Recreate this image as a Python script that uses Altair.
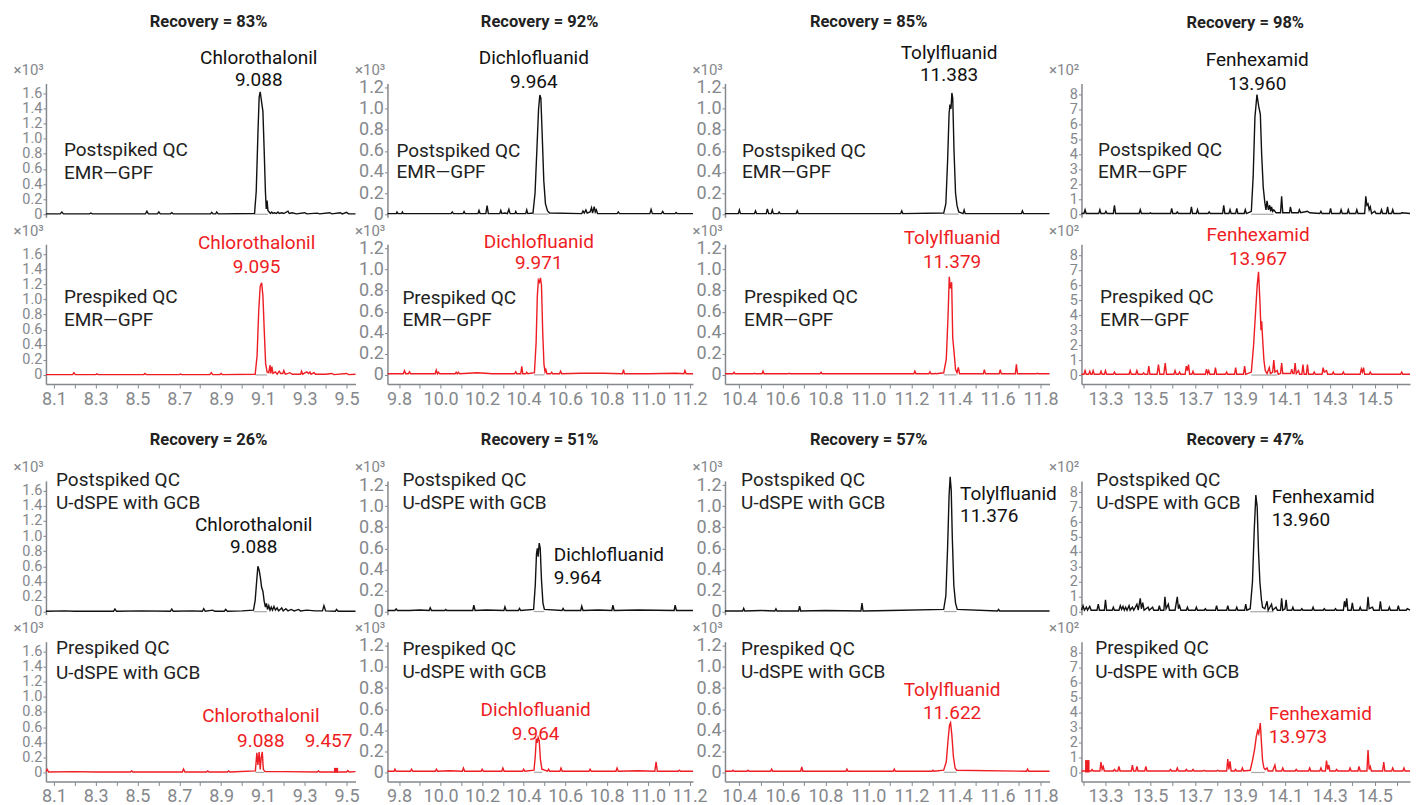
import altair as alt
import pandas as pd

FONT = "Roboto"
TRACE_BLACK = "#111111"
TEXT_BLACK = "#222222"
RED = "#ee1d23"
AXIS_GRAY = "#85888c"
BASE_GRAY = "#a8a8a8"

# ---------------- categories / labels ----------------
compounds = ["Chlorothalonil", "Dichlofluanid", "Tolylfluanid", "Fenhexamid"]
recovery_emr = [83, 92, 85, 98]
recovery_udspe = [26, 51, 57, 47]
exponents = ["×10³", "×10³", "×10³", "×10²"]

x_domains = [[8.062, 9.543], [9.744, 11.216], [10.333, 11.842], [13.193, 14.657]]
y_domains = [[-0.04, 1.73], [-0.03, 1.24], [-0.03, 1.24], [-0.2, 8.75]]
y_domains_bottom = [[-0.12, 1.73], [-0.087, 1.24], [-0.087, 1.24], [-0.6, 8.75]]
y_ticks = [[0, 0.2, 0.4, 0.6, 0.8, 1.0, 1.2, 1.4, 1.6],
           [0, 0.2, 0.4, 0.6, 0.8, 1.0, 1.2],
           [0, 0.2, 0.4, 0.6, 0.8, 1.0, 1.2],
           [0, 1, 2, 3, 4, 5, 6, 7, 8]]
x_major_ticks = [[8.1, 8.3, 8.5, 8.7, 8.9, 9.1, 9.3, 9.5],
                 [9.8, 10.0, 10.2, 10.4, 10.6, 10.8, 11.0, 11.2],
                 [10.4, 10.6, 10.8, 11.0, 11.2, 11.4, 11.6, 11.8],
                 [13.3, 13.5, 13.7, 13.9, 14.1, 14.3, 14.5]]
x_minor_ticks = [[8.2, 8.4, 8.6, 8.8, 9.0, 9.2, 9.4],
                 [9.9, 10.1, 10.3, 10.5, 10.7, 10.9, 11.1],
                 [10.5, 10.7, 10.9, 11.1, 11.3, 11.5, 11.7],
                 [13.2, 13.4, 13.6, 13.8, 14.0, 14.2, 14.4, 14.6]]

# ---------------- traces (retention time, intensity) ----------------
chl_post_emr = [(8.062,0.005),(8.13,0.005),(8.138,0.03),(8.146,0.005),(8.27,0.005),(8.277,0.015),(8.284,0.005),(8.538,0.005),(8.545,0.04),(8.552,0.005),(8.595,0.005),(8.602,0.03),(8.609,0.005),(8.657,0.005),(8.664,0.02),(8.671,0.005),(8.85,0.005),(8.855,0.025),(8.862,0.005),(8.874,0.005),(8.879,0.03),(8.886,0.005),(9.06,0.01),(9.068,0.3),(9.076,1.05),(9.082,1.55),(9.087,1.62),(9.093,1.5),(9.1,1.36),(9.106,0.85),(9.112,0.3),(9.116,0.07),(9.12,0.18),(9.124,0.05),(9.13,0.03),(9.136,0.01),(9.142,0.03),(9.148,0.01),(9.155,0.02),(9.165,0.01),(9.172,0.03),(9.178,0.01),(9.19,0.02),(9.2,0.01),(9.22,0.04),(9.226,0.01),(9.24,0.02),(9.26,0.005),(9.3,0.02),(9.31,0.005),(9.36,0.015),(9.37,0.005),(9.42,0.02),(9.43,0.005),(9.47,0.02),(9.48,0.005),(9.5,0.025),(9.51,0.005),(9.543,0.005)]
chl_pre_emr = [(8.062,0.005),(8.19,0.005),(8.196,0.03),(8.203,0.005),(8.3,0.005),(8.306,0.015),(8.312,0.005),(8.53,0.005),(8.536,0.02),(8.542,0.005),(8.7,0.005),(8.706,0.012),(8.712,0.005),(8.846,0.005),(8.853,0.03),(8.86,0.005),(8.895,0.005),(8.9,0.02),(8.906,0.005),(9.063,0.01),(9.072,0.25),(9.08,0.85),(9.087,1.17),(9.094,1.22),(9.1,1.05),(9.107,0.55),(9.113,0.15),(9.12,0.04),(9.128,0.03),(9.134,0.13),(9.138,0.02),(9.143,0.11),(9.148,0.02),(9.16,0.04),(9.168,0.01),(9.178,0.05),(9.185,0.02),(9.195,0.02),(9.2,0.06),(9.207,0.01),(9.22,0.02),(9.23,0.03),(9.24,0.01),(9.28,0.01),(9.285,0.05),(9.29,0.01),(9.31,0.04),(9.318,0.02),(9.325,0.04),(9.33,0.01),(9.345,0.03),(9.352,0.01),(9.4,0.01),(9.43,0.02),(9.44,0.005),(9.5,0.02),(9.51,0.005),(9.543,0.01)]
chl_post_udspe = [(8.062,0.005),(8.15,0.01),(8.2,0.005),(8.385,0.005),(8.392,0.035),(8.4,0.005),(8.52,0.01),(8.657,0.005),(8.664,0.035),(8.671,0.005),(8.76,0.01),(8.81,0.005),(8.817,0.04),(8.824,0.005),(8.86,0.02),(8.87,0.005),(8.915,0.005),(8.922,0.03),(8.93,0.005),(9.0,0.01),(9.055,0.02),(9.063,0.15),(9.07,0.4),(9.076,0.6),(9.082,0.55),(9.088,0.45),(9.094,0.32),(9.1,0.27),(9.106,0.14),(9.112,0.06),(9.117,0.11),(9.122,0.03),(9.128,0.08),(9.134,0.02),(9.14,0.06),(9.146,0.02),(9.153,0.07),(9.16,0.02),(9.168,0.05),(9.175,0.01),(9.19,0.05),(9.197,0.01),(9.21,0.04),(9.22,0.01),(9.235,0.03),(9.25,0.01),(9.27,0.03),(9.28,0.01),(9.31,0.02),(9.35,0.01),(9.385,0.01),(9.392,0.08),(9.4,0.01),(9.447,0.005),(9.452,0.03),(9.46,0.005),(9.543,0.005)]
chl_pre_udspe = [(8.062,0.01),(8.068,0.04),(8.075,0.005),(8.2,0.01),(8.3,0.005),(8.466,0.005),(8.472,0.02),(8.478,0.005),(8.715,0.005),(8.72,0.045),(8.727,0.005),(8.83,0.005),(8.836,0.02),(8.842,0.005),(8.93,0.005),(8.936,0.02),(8.942,0.005),(9.064,0.02),(9.071,0.26),(9.076,0.1),(9.082,0.27),(9.087,0.04),(9.092,0.2),(9.097,0.27),(9.102,0.04),(9.11,0.01),(9.2,0.01),(9.36,0.005),(9.366,0.02),(9.372,0.005),(9.5,0.005),(9.506,0.025),(9.512,0.005),(9.543,0.01)]

dcf_post_emr = [(9.744,0.005),(9.787,0.005),(9.79,0.02),(9.795,0.005),(9.812,0.005),(9.816,0.02),(9.82,0.005),(10.05,0.005),(10.056,0.02),(10.062,0.005),(10.108,0.005),(10.113,0.025),(10.118,0.005),(10.18,0.005),(10.185,0.035),(10.19,0.005),(10.218,0.005),(10.224,0.08),(10.23,0.005),(10.285,0.005),(10.29,0.035),(10.295,0.005),(10.31,0.01),(10.322,0.005),(10.329,0.045),(10.335,0.005),(10.358,0.005),(10.362,0.025),(10.367,0.005),(10.41,0.005),(10.415,0.04),(10.42,0.005),(10.445,0.01),(10.455,0.2),(10.464,0.62),(10.472,1.0),(10.478,1.13),(10.483,1.1),(10.49,0.72),(10.497,0.32),(10.505,0.1),(10.515,0.03),(10.525,0.01),(10.68,0.005),(10.686,0.03),(10.692,0.01),(10.7,0.04),(10.706,0.01),(10.72,0.02),(10.727,0.06),(10.732,0.01),(10.74,0.07),(10.745,0.02),(10.75,0.04),(10.756,0.005),(10.85,0.005),(10.856,0.02),(10.862,0.005),(11.008,0.005),(11.014,0.045),(11.02,0.005),(11.064,0.005),(11.07,0.025),(11.076,0.005),(11.13,0.005),(11.134,0.015),(11.14,0.005),(11.216,0.005)]
dcf_pre_emr = [(9.744,0.01),(9.82,0.01),(9.826,0.04),(9.832,0.01),(9.845,0.01),(9.85,0.03),(9.856,0.01),(9.974,0.01),(9.979,0.045),(9.985,0.01),(9.99,0.025),(9.996,0.01),(10.07,0.01),(10.075,0.025),(10.08,0.01),(10.086,0.025),(10.092,0.01),(10.176,0.02),(10.25,0.01),(10.356,0.01),(10.362,0.03),(10.367,0.01),(10.386,0.01),(10.391,0.08),(10.396,0.01),(10.41,0.01),(10.415,0.025),(10.42,0.01),(10.452,0.02),(10.46,0.3),(10.466,0.75),(10.471,0.9),(10.476,0.88),(10.481,0.92),(10.486,0.85),(10.492,0.4),(10.498,0.1),(10.503,0.03),(10.507,0.05),(10.512,0.01),(10.53,0.01),(10.535,0.025),(10.54,0.01),(10.573,0.01),(10.578,0.035),(10.584,0.01),(10.675,0.015),(10.784,0.015),(10.876,0.01),(10.881,0.05),(10.886,0.01),(11.0,0.01),(11.134,0.015),(11.172,0.01),(11.177,0.04),(11.183,0.01),(11.216,0.01)]
dcf_post_udspe = [(9.744,0.01),(9.78,0.01),(9.786,0.025),(9.792,0.01),(9.85,0.01),(9.9,0.015),(9.945,0.01),(9.95,0.035),(9.956,0.01),(10.02,0.01),(10.025,0.02),(10.03,0.01),(10.155,0.01),(10.16,0.06),(10.166,0.01),(10.22,0.015),(10.305,0.01),(10.31,0.045),(10.316,0.01),(10.375,0.01),(10.38,0.03),(10.386,0.01),(10.448,0.02),(10.456,0.25),(10.462,0.55),(10.466,0.6),(10.47,0.52),(10.475,0.65),(10.48,0.6),(10.486,0.3),(10.493,0.08),(10.5,0.02),(10.585,0.01),(10.59,0.03),(10.596,0.01),(10.675,0.01),(10.68,0.05),(10.686,0.01),(10.76,0.015),(10.825,0.01),(10.83,0.06),(10.836,0.01),(10.95,0.015),(11.125,0.01),(11.13,0.06),(11.136,0.01),(11.216,0.01)]
dcf_pre_udspe = [(9.744,0.01),(9.776,0.01),(9.78,0.03),(9.786,0.01),(9.855,0.01),(9.86,0.03),(9.866,0.01),(9.975,0.01),(9.98,0.03),(9.986,0.01),(10.04,0.015),(10.105,0.01),(10.11,0.04),(10.116,0.01),(10.195,0.01),(10.2,0.03),(10.206,0.01),(10.295,0.01),(10.3,0.04),(10.306,0.01),(10.395,0.01),(10.4,0.03),(10.406,0.01),(10.45,0.02),(10.456,0.15),(10.461,0.32),(10.465,0.28),(10.47,0.33),(10.475,0.3),(10.481,0.12),(10.488,0.03),(10.515,0.01),(10.52,0.03),(10.526,0.01),(10.575,0.01),(10.58,0.04),(10.586,0.01),(10.715,0.01),(10.72,0.03),(10.726,0.01),(10.845,0.01),(10.85,0.04),(10.856,0.01),(10.95,0.015),(11.032,0.01),(11.038,0.1),(11.044,0.01),(11.145,0.01),(11.15,0.02),(11.156,0.01),(11.216,0.01)]

tlf_post_emr = [(10.333,0.005),(10.395,0.005),(10.4,0.04),(10.405,0.005),(10.47,0.005),(10.475,0.03),(10.48,0.005),(10.525,0.005),(10.53,0.05),(10.536,0.005),(10.548,0.005),(10.553,0.04),(10.558,0.005),(10.58,0.005),(10.585,0.02),(10.59,0.005),(10.664,0.005),(10.669,0.03),(10.674,0.005),(10.9,0.005),(11.15,0.005),(11.155,0.03),(11.16,0.005),(11.35,0.01),(11.36,0.1),(11.368,0.5),(11.375,0.95),(11.379,1.04),(11.384,1.0),(11.388,1.15),(11.392,1.1),(11.398,0.6),(11.405,0.2),(11.412,0.08),(11.42,0.02),(11.44,0.005),(11.445,0.04),(11.45,0.005),(11.6,0.005),(11.711,0.005),(11.716,0.03),(11.721,0.005),(11.842,0.005)]
tlf_pre_emr = [(10.333,0.01),(10.37,0.01),(10.375,0.025),(10.38,0.01),(10.465,0.01),(10.47,0.015),(10.475,0.01),(10.505,0.01),(10.51,0.035),(10.515,0.01),(10.627,0.01),(10.632,0.015),(10.637,0.01),(10.775,0.01),(10.78,0.025),(10.785,0.01),(11.0,0.01),(11.211,0.01),(11.216,0.035),(11.221,0.01),(11.281,0.01),(11.286,0.03),(11.291,0.01),(11.305,0.01),(11.31,0.015),(11.315,0.01),(11.35,0.02),(11.362,0.15),(11.37,0.55),(11.376,0.93),(11.381,0.82),(11.387,0.88),(11.392,0.35),(11.398,0.22),(11.405,0.05),(11.412,0.02),(11.418,0.07),(11.424,0.01),(11.534,0.01),(11.539,0.05),(11.544,0.01),(11.608,0.01),(11.613,0.05),(11.618,0.01),(11.683,0.01),(11.688,0.1),(11.693,0.01),(11.78,0.01),(11.786,0.015),(11.792,0.01),(11.842,0.01)]
tlf_post_udspe = [(10.333,0.005),(10.415,0.005),(10.42,0.03),(10.425,0.005),(10.5,0.01),(10.565,0.005),(10.57,0.025),(10.575,0.005),(10.675,0.005),(10.68,0.05),(10.685,0.005),(10.8,0.01),(10.965,0.005),(10.97,0.08),(10.975,0.005),(11.1,0.01),(11.35,0.02),(11.36,0.15),(11.368,0.6),(11.375,1.1),(11.38,1.28),(11.385,1.15),(11.39,0.7),(11.397,0.25),(11.405,0.08),(11.413,0.02),(11.6,0.005),(11.605,0.02),(11.61,0.005),(11.842,0.005)]
tlf_pre_udspe = [(10.333,0.01),(10.365,0.01),(10.37,0.02),(10.375,0.01),(10.435,0.01),(10.44,0.02),(10.445,0.01),(10.545,0.01),(10.55,0.03),(10.555,0.01),(10.685,0.01),(10.69,0.05),(10.695,0.01),(10.895,0.01),(10.9,0.03),(10.905,0.01),(11.115,0.01),(11.12,0.03),(11.125,0.01),(11.295,0.01),(11.3,0.02),(11.305,0.01),(11.35,0.02),(11.362,0.1),(11.37,0.3),(11.377,0.45),(11.382,0.47),(11.388,0.35),(11.395,0.15),(11.403,0.04),(11.41,0.02),(11.735,0.01),(11.74,0.03),(11.745,0.01),(11.842,0.01)]

fhx_post_emr = [(13.193,0.05),(13.204,0.05),(13.209,0.3),(13.214,0.05),(13.27,0.05),(13.275,0.3),(13.28,0.05),(13.297,0.05),(13.302,0.2),(13.307,0.05),(13.335,0.05),(13.34,0.6),(13.345,0.05),(13.45,0.05),(13.455,0.3),(13.46,0.05),(13.495,0.05),(13.5,0.1),(13.505,0.05),(13.59,0.05),(13.595,0.4),(13.6,0.05),(13.615,0.05),(13.62,0.15),(13.625,0.05),(13.678,0.05),(13.683,0.5),(13.688,0.05),(13.705,0.05),(13.71,0.3),(13.715,0.05),(13.757,0.05),(13.762,0.15),(13.767,0.05),(13.822,0.05),(13.827,0.6),(13.832,0.05),(13.85,0.05),(13.855,0.3),(13.86,0.05),(13.88,0.05),(13.885,0.4),(13.89,0.05),(13.918,0.05),(13.923,0.3),(13.928,0.05),(13.95,0.2),(13.958,2.5),(13.966,6.5),(13.975,8.0),(13.983,7.2),(13.99,6.7),(13.996,4.0),(14.003,1.8),(14.01,0.8),(14.015,0.3),(14.02,0.9),(14.026,0.3),(14.032,0.6),(14.036,0.2),(14.04,0.5),(14.045,0.2),(14.05,0.3),(14.06,0.1),(14.08,0.1),(14.085,1.2),(14.09,0.1),(14.12,0.1),(14.124,0.5),(14.13,0.1),(14.16,0.1),(14.164,0.3),(14.17,0.1),(14.2,0.2),(14.21,0.1),(14.255,0.05),(14.26,0.2),(14.265,0.05),(14.298,0.05),(14.303,0.4),(14.308,0.05),(14.345,0.05),(14.35,0.3),(14.355,0.05),(14.377,0.05),(14.382,0.3),(14.387,0.05),(14.415,0.05),(14.42,0.3),(14.425,0.05),(14.455,0.05),(14.46,1.2),(14.465,0.6),(14.47,0.7),(14.475,0.3),(14.48,0.5),(14.486,0.05),(14.5,0.2),(14.506,0.05),(14.525,0.05),(14.53,0.3),(14.535,0.05),(14.552,0.05),(14.557,0.5),(14.562,0.05),(14.575,0.05),(14.58,0.3),(14.585,0.05),(14.615,0.05),(14.62,0.1),(14.657,0.05)]
fhx_pre_emr = [(13.193,0.05),(13.204,0.05),(13.209,0.3),(13.214,0.05),(13.225,0.05),(13.23,0.25),(13.235,0.05),(13.24,0.05),(13.245,0.3),(13.25,0.05),(13.275,0.05),(13.28,0.25),(13.285,0.05),(13.295,0.05),(13.3,0.3),(13.305,0.05),(13.335,0.05),(13.34,0.2),(13.345,0.05),(13.405,0.05),(13.41,0.3),(13.415,0.05),(13.435,0.05),(13.44,0.3),(13.445,0.05),(13.465,0.05),(13.47,0.15),(13.475,0.05),(13.488,0.05),(13.493,0.6),(13.498,0.05),(13.53,0.05),(13.536,0.7),(13.542,0.05),(13.56,0.05),(13.566,0.8),(13.572,0.05),(13.605,0.05),(13.61,0.3),(13.615,0.05),(13.625,0.05),(13.63,0.2),(13.635,0.05),(13.655,0.05),(13.66,0.6),(13.665,0.3),(13.67,0.7),(13.675,0.05),(13.685,0.05),(13.69,0.25),(13.695,0.05),(13.745,0.05),(13.75,0.4),(13.755,0.1),(13.76,0.3),(13.765,0.05),(13.785,0.05),(13.79,0.5),(13.795,0.05),(13.835,0.05),(13.84,0.2),(13.845,0.05),(13.875,0.05),(13.88,0.5),(13.885,0.05),(13.915,0.05),(13.92,0.6),(13.925,0.05),(13.95,0.2),(13.96,2.0),(13.968,4.0),(13.976,6.0),(13.982,6.9),(13.988,5.0),(13.993,3.0),(13.996,3.6),(14.0,2.5),(14.006,1.0),(14.012,0.3),(14.02,0.1),(14.03,0.5),(14.035,0.1),(14.045,0.2),(14.05,1.0),(14.055,0.2),(14.065,0.3),(14.07,0.05),(14.08,0.1),(14.085,0.8),(14.09,0.1),(14.125,0.1),(14.13,0.4),(14.135,0.1),(14.14,0.1),(14.145,0.8),(14.15,0.1),(14.16,0.3),(14.165,0.05),(14.175,0.05),(14.18,0.7),(14.185,0.05),(14.195,0.05),(14.2,0.7),(14.205,0.05),(14.225,0.05),(14.23,0.2),(14.235,0.05),(14.265,0.05),(14.27,0.5),(14.275,0.2),(14.285,0.3),(14.29,0.05),(14.31,0.05),(14.315,0.2),(14.32,0.05),(14.355,0.05),(14.36,0.2),(14.365,0.05),(14.435,0.05),(14.44,0.4),(14.445,0.2),(14.45,0.5),(14.455,0.05),(14.475,0.05),(14.48,0.2),(14.485,0.05),(14.615,0.05),(14.62,0.2),(14.625,0.05),(14.657,0.05)]
fhx_post_udspe = [(13.193,0.1),(13.2,0.4),(13.206,0.1),(13.215,0.3),(13.22,0.1),(13.23,0.35),(13.236,0.1),(13.262,0.1),(13.268,0.5),(13.273,0.1),(13.295,0.1),(13.3,0.8),(13.305,0.1),(13.33,0.1),(13.335,0.3),(13.34,0.1),(13.36,0.1),(13.366,0.4),(13.372,0.15),(13.378,0.35),(13.384,0.1),(13.39,0.3),(13.396,0.1),(13.405,0.4),(13.41,0.1),(13.42,0.3),(13.426,0.1),(13.44,0.5),(13.446,0.1),(13.455,0.9),(13.46,0.2),(13.466,0.6),(13.472,0.1),(13.49,0.3),(13.495,0.1),(13.51,0.3),(13.515,0.1),(13.535,0.1),(13.54,0.4),(13.545,0.1),(13.56,0.1),(13.565,1.0),(13.57,0.2),(13.58,0.5),(13.585,0.1),(13.61,0.1),(13.62,1.0),(13.625,0.2),(13.63,0.4),(13.636,0.1),(13.66,0.1),(13.665,0.3),(13.67,0.1),(13.7,0.1),(13.705,0.3),(13.71,0.1),(13.74,0.1),(13.745,0.2),(13.75,0.1),(13.79,0.1),(13.795,0.4),(13.8,0.1),(13.84,0.1),(13.845,0.4),(13.85,0.1),(13.88,0.1),(13.885,0.3),(13.89,0.1),(13.92,0.1),(13.925,0.5),(13.93,0.1),(13.945,0.2),(13.955,2.0),(13.963,5.5),(13.97,7.8),(13.976,7.0),(13.982,4.0),(13.988,2.0),(13.995,0.8),(14.0,0.3),(14.01,0.2),(14.02,0.7),(14.025,0.1),(14.04,0.5),(14.045,0.1),(14.06,0.3),(14.066,0.1),(14.08,0.1),(14.085,0.9),(14.09,0.1),(14.1,0.2),(14.105,0.8),(14.11,0.1),(14.13,0.1),(14.135,0.3),(14.14,0.1),(14.17,0.1),(14.175,0.2),(14.18,0.1),(14.22,0.1),(14.225,0.3),(14.23,0.1),(14.27,0.1),(14.275,0.2),(14.28,0.1),(14.32,0.1),(14.325,0.2),(14.33,0.1),(14.36,0.1),(14.365,0.7),(14.37,0.3),(14.375,0.9),(14.38,0.1),(14.395,0.1),(14.4,0.6),(14.405,0.1),(14.43,0.1),(14.435,0.3),(14.44,0.1),(14.465,0.1),(14.47,1.0),(14.475,0.2),(14.49,0.3),(14.495,0.1),(14.52,0.1),(14.525,0.7),(14.53,0.1),(14.56,0.1),(14.565,0.3),(14.57,0.1),(14.6,0.1),(14.605,0.4),(14.61,0.1),(14.64,0.1),(14.645,0.2),(14.657,0.1)]
fhx_pre_udspe = [(13.193,0.1),(13.2,0.1),(13.236,0.1),(13.24,0.2),(13.245,0.1),(13.275,0.1),(13.28,0.7),(13.285,0.2),(13.29,0.4),(13.295,0.1),(13.335,0.1),(13.34,0.2),(13.345,0.1),(13.355,0.1),(13.36,0.4),(13.365,0.1),(13.415,0.1),(13.42,0.5),(13.425,0.1),(13.435,0.1),(13.44,0.4),(13.445,0.1),(13.475,0.1),(13.48,0.4),(13.485,0.1),(13.52,0.1),(13.585,0.1),(13.59,0.2),(13.595,0.1),(13.615,0.1),(13.62,0.3),(13.625,0.1),(13.655,0.1),(13.66,0.2),(13.665,0.1),(13.685,0.1),(13.69,0.2),(13.695,0.1),(13.735,0.1),(13.74,0.15),(13.745,0.1),(13.795,0.1),(13.8,0.15),(13.805,0.1),(13.84,0.1),(13.845,0.9),(13.85,0.2),(13.855,0.75),(13.86,0.1),(13.875,0.1),(13.88,0.2),(13.885,0.1),(13.905,0.1),(13.91,0.3),(13.915,0.1),(13.945,0.15),(13.955,0.8),(13.965,1.6),(13.972,2.4),(13.978,2.8),(13.983,2.6),(13.99,3.3),(13.995,2.0),(14.0,0.8),(14.006,0.3),(14.012,0.2),(14.02,0.3),(14.025,0.1),(14.045,0.1),(14.055,0.5),(14.06,0.1),(14.085,0.1),(14.09,0.3),(14.095,0.1),(14.145,0.1),(14.15,0.2),(14.155,0.1),(14.205,0.1),(14.21,0.3),(14.215,0.1),(14.255,0.1),(14.26,0.3),(14.265,0.1),(14.28,0.1),(14.285,0.8),(14.29,0.2),(14.295,0.5),(14.3,0.1),(14.325,0.1),(14.33,0.2),(14.335,0.1),(14.385,0.1),(14.39,0.3),(14.395,0.1),(14.425,0.1),(14.43,0.4),(14.435,0.1),(14.465,0.1),(14.47,1.5),(14.475,0.2),(14.48,0.4),(14.485,0.1),(14.535,0.1),(14.54,0.7),(14.545,0.1),(14.575,0.1),(14.58,0.3),(14.585,0.1),(14.625,0.1),(14.63,0.3),(14.635,0.1),(14.657,0.1)]

traces = {
    "1A": chl_post_emr, "1B": chl_pre_emr, "1C": chl_post_udspe, "1D": chl_pre_udspe,
    "2A": dcf_post_emr, "2B": dcf_pre_emr, "2C": dcf_post_udspe, "2D": dcf_pre_udspe,
    "3A": tlf_post_emr, "3B": tlf_pre_emr, "3C": tlf_post_udspe, "3D": tlf_pre_udspe,
    "4A": fhx_post_emr, "4B": fhx_pre_emr, "4C": fhx_post_udspe, "4D": fhx_pre_udspe,
}

# integration baseline under each main peak (start, end)
peak_baselines = {
    "1A": (9.062, 9.125), "1B": (9.065, 9.12), "1C": (9.055, 9.12), "1D": (9.065, 9.105),
    "2A": (10.445, 10.52), "2B": (10.45, 10.5), "2C": (10.448, 10.5), "2D": (10.45, 10.49),
    "3A": (11.35, 11.42), "3B": (11.35, 11.41), "3C": (11.35, 11.41), "3D": (11.35, 11.41),
    "4A": (13.95, 14.05), "4B": (13.95, 14.065), "4C": (13.945, 14.05), "4D": (13.95, 14.01),
}

# filled blocks marked on the trace (panel, start, end, low, high)
marked_blocks = [("1D", 9.44, 9.46, 0.0, 0.06), ("4D", 13.209, 13.229, 0.0, 0.83)]

# peak labels, centred: (panel, rt, intensity, text)
peak_labels = [
    ("1A", 9.08, 2.07, "Chlorothalonil"), ("1A", 9.08, 1.77, "9.088"),
    ("1B", 9.07, 1.74, "Chlorothalonil"), ("1B", 9.07, 1.43, "9.095"),
    ("1C", 9.056, 1.15, "Chlorothalonil"), ("1C", 9.056, 0.85, "9.088"),
    ("1D", 9.09, 0.74, "Chlorothalonil"), ("1D", 9.09, 0.42, "9.088"), ("1D", 9.414, 0.42, "9.457"),
    ("2A", 10.449, 1.48, "Dichlofluanid"), ("2A", 10.449, 1.25, "9.964"),
    ("2B", 10.473, 1.26, "Dichlofluanid"), ("2B", 10.473, 1.06, "9.971"),
    ("2D", 10.458, 0.59, "Dichlofluanid"), ("2D", 10.458, 0.36, "9.964"),
    ("3A", 11.375, 1.53, "Tolylfluanid"), ("3A", 11.375, 1.32, "11.383"),
    ("3B", 11.389, 1.30, "Tolylfluanid"), ("3B", 11.389, 1.07, "11.379"),
    ("3D", 11.389, 0.78, "Tolylfluanid"), ("3D", 11.389, 0.56, "11.622"),
    ("4A", 13.976, 10.3, "Fenhexamid"), ("4A", 13.976, 8.7, "13.960"),
    ("4B", 13.98, 9.35, "Fenhexamid"), ("4B", 13.98, 7.75, "13.967"),
]
# peak labels, left-anchored
peak_labels_left = [
    ("2C", 10.545, 0.54, "Dichlofluanid"), ("2C", 10.545, 0.32, "9.964"),
    ("3C", 11.426, 1.12, "Tolylfluanid"), ("3C", 11.426, 0.91, "11.376"),
    ("4C", 14.041, 7.7, "Fenhexamid"), ("4C", 14.041, 6.15, "13.960"),
    ("4D", 14.028, 3.9, "Fenhexamid"), ("4D", 14.028, 2.4, "13.973"),
]
# sample descriptions: (panel, rt, intensity, text)
sample_labels = [
    ("1A", 8.148, 0.85, "Postspiked QC"), ("1A", 8.148, 0.55, "EMR—GPF"),
    ("1B", 8.148, 1.03, "Prespiked QC"), ("1B", 8.148, 0.73, "EMR—GPF"),
    ("1C", 8.11, 1.74, "Postspiked QC"), ("1C", 8.11, 1.44, "U-dSPE with GCB"),
    ("1D", 8.11, 1.64, "Prespiked QC"), ("1D", 8.11, 1.32, "U-dSPE with GCB"),
    ("2A", 9.787, 0.60, "Postspiked QC"), ("2A", 9.787, 0.40, "EMR—GPF"),
    ("2B", 9.816, 0.73, "Prespiked QC"), ("2B", 9.816, 0.52, "EMR—GPF"),
    ("2C", 9.816, 1.25, "Postspiked QC"), ("2C", 9.816, 1.03, "U-dSPE with GCB"),
    ("2D", 9.816, 1.17, "Prespiked QC"), ("2D", 9.816, 0.95, "U-dSPE with GCB"),
    ("3A", 10.412, 0.60, "Postspiked QC"), ("3A", 10.412, 0.40, "EMR—GPF"),
    ("3B", 10.422, 0.74, "Prespiked QC"), ("3B", 10.422, 0.52, "EMR—GPF"),
    ("3C", 10.408, 1.25, "Postspiked QC"), ("3C", 10.408, 1.03, "U-dSPE with GCB"),
    ("3D", 10.408, 1.17, "Prespiked QC"), ("3D", 10.408, 0.95, "U-dSPE with GCB"),
    ("4A", 13.267, 4.3, "Postspiked QC"), ("4A", 13.267, 2.8, "EMR—GPF"),
    ("4B", 13.276, 5.2, "Prespiked QC"), ("4B", 13.276, 3.7, "EMR—GPF"),
    ("4C", 13.259, 8.8, "Postspiked QC"), ("4C", 13.259, 7.3, "U-dSPE with GCB"),
    ("4D", 13.254, 8.3, "Prespiked QC"), ("4D", 13.254, 6.7, "U-dSPE with GCB"),
]
# group titles anchored on the top panel of each group: (panel, rt, intensity)
title_anchor_emr = [("1A", 8.84, 2.54), ("2A", 10.477, 1.82), ("3A", 11.001, 1.82), ("4A", 13.923, 12.8)]
title_anchor_udspe = [("1C", 8.84, 2.27), ("2C", 10.477, 1.63), ("3C", 11.001, 1.63), ("4C", 13.923, 11.5)]

group_titles = []
for (pid, rt, yv), r in zip(title_anchor_emr, recovery_emr):
    group_titles.append((pid, rt, yv, f"Recovery = {r}%"))
for (pid, rt, yv), r in zip(title_anchor_udspe, recovery_udspe):
    group_titles.append((pid, rt, yv, f"Recovery = {r}%"))

# ---------------- layout ----------------
PANEL_W = [310, 306, 325, 329]
PANEL_H = 134
PANEL_H_BOTTOM = 140      # bottom panel of each group reaches down to its time axis
ROW_GAP = 27
GROUP_FILLER_H = 103 - 2 * ROW_GAP - (PANEL_H_BOTTOM - PANEL_H)
TXT = 19
Y_LABEL_SIZE = [14.5, 18, 18, 14.5]

COLOR = alt.Color("series:N",
                  scale=alt.Scale(domain=["post", "pre", "label"], range=[TRACE_BLACK, RED, TEXT_BLACK]),
                  legend=None)


def rows_for(table, pid, series):
    recs = [{"rt": t[1], "y": t[2], "text": t[3], "series": series} for t in table if t[0] == pid]
    return pd.DataFrame(recs)


def panel(col, row):
    pid = f"{col + 1}{row}"
    bottom = row in ("B", "D")
    series = "pre" if bottom else "post"

    xs = alt.Scale(domain=x_domains[col], nice=False, zero=False)
    ydom = y_domains_bottom[col] if bottom else y_domains[col]
    ys = alt.Scale(domain=ydom, nice=False, zero=False)

    X_plain = alt.X("rt:Q", scale=xs, axis=None)
    if bottom:
        major_axis = alt.Axis(values=x_major_ticks[col], format=".1f", orient="bottom",
                              title="", grid=False, domainColor=AXIS_GRAY, domainWidth=1.5,
                              tickColor=AXIS_GRAY, tickSize=4, tickWidth=1,
                              labelColor=AXIS_GRAY, labelFont=FONT, labelFontSize=18,
                              labelPadding=2, labelFlush=False, labelOverlap=False)
        minor_axis = alt.Axis(values=x_minor_ticks[col], orient="bottom", labels=False, domain=False,
                              title="", grid=False, tickColor=AXIS_GRAY, tickSize=4, tickWidth=1)
        X_major = alt.X("rt:Q", scale=xs, axis=major_axis)
        X_minor = alt.X("rt:Q", scale=xs, axis=minor_axis)
    else:
        X_major = X_plain
        X_minor = X_plain

    yexpr = "format(datum.value, 'd')" if col == 3 else "datum.value == 0 ? '0' : format(datum.value, '.1f')"
    yaxis = alt.Axis(values=y_ticks[col], labelExpr=yexpr, title=exponents[col],
                     titleAngle=0, titleX=-33, titleY=-6, titleAlign="left", titleBaseline="bottom",
                     titleFont=FONT, titleFontSize=15, titleFontWeight="normal", titleColor=AXIS_GRAY,
                     grid=False, domainColor=AXIS_GRAY, domainWidth=1.5,
                     tickColor=AXIS_GRAY, tickSize=3, tickWidth=1,
                     labelColor=AXIS_GRAY, labelFont=FONT, labelFontSize=Y_LABEL_SIZE[col],
                     labelPadding=1, labelOverlap=False, labelFlush=False)
    Y = alt.Y("y:Q", scale=ys, axis=yaxis)

    layers = []
    s, e = peak_baselines[pid]
    base_df = pd.DataFrame({"rt": [s], "rt2": [e], "y": [0.0]})
    layers.append(alt.Chart(base_df).mark_rule(color=BASE_GRAY, strokeWidth=1.2)
                  .encode(x=X_minor, x2=alt.X2("rt2"), y=Y))

    tr = traces[pid]
    tdf = pd.DataFrame({"rt": [p[0] for p in tr], "y": [p[1] for p in tr], "series": series})
    layers.append(alt.Chart(tdf).mark_line(strokeWidth=1.4).encode(x=X_major, y=Y, color=COLOR))

    blocks = [b for b in marked_blocks if b[0] == pid]
    if blocks:
        bdf = pd.DataFrame({"rt": [b[1] for b in blocks], "rt2": [b[2] for b in blocks],
                            "y": [b[3] for b in blocks], "y2": [b[4] for b in blocks], "series": series})
        layers.append(alt.Chart(bdf).mark_rect()
                      .encode(x=X_plain, x2=alt.X2("rt2"), y=Y, y2=alt.Y2("y2"), color=COLOR))

    sdf = rows_for(sample_labels, pid, "label")
    if len(sdf):
        layers.append(alt.Chart(sdf).mark_text(align="left", baseline="middle", font=FONT, fontSize=TXT)
                      .encode(x=X_plain, y=Y, text="text:N", color=COLOR))
    pdf = rows_for(peak_labels, pid, series)
    if len(pdf):
        layers.append(alt.Chart(pdf).mark_text(align="center", baseline="middle", font=FONT, fontSize=TXT)
                      .encode(x=X_plain, y=Y, text="text:N", color=COLOR))
    ldf = rows_for(peak_labels_left, pid, series)
    if len(ldf):
        layers.append(alt.Chart(ldf).mark_text(align="left", baseline="middle", font=FONT, fontSize=TXT)
                      .encode(x=X_plain, y=Y, text="text:N", color=COLOR))
    gdf = rows_for(group_titles, pid, "label")
    if len(gdf):
        layers.append(alt.Chart(gdf).mark_text(align="center", baseline="middle", font=FONT,
                                               fontSize=16.5, fontWeight="bold")
                      .encode(x=X_plain, y=Y, text="text:N", color=COLOR))

    h = PANEL_H_BOTTOM if bottom else PANEL_H
    return (alt.layer(*layers)
            .resolve_axis(x="independent")
            .properties(width=PANEL_W[col], height=h))


def filler(col):
    return (alt.Chart(pd.DataFrame({"t": [""]}))
            .mark_text(opacity=0)
            .encode(x=alt.value(0), y=alt.value(0), text="t:N")
            .properties(width=PANEL_W[col], height=GROUP_FILLER_H))


cells = []
for row in ("A", "B"):
    cells += [panel(c, row) for c in range(4)]
cells += [filler(c) for c in range(4)]
for row in ("C", "D"):
    cells += [panel(c, row) for c in range(4)]

chart = (alt.concat(*cells, columns=4, spacing={"row": ROW_GAP, "column": 32}, bounds="flush")
         .properties(padding={"left": 5, "top": 5, "right": 0, "bottom": 0}, background="white")
         .configure_view(strokeWidth=0, stroke="transparent"))

chart.save("out.html", embed_options={"renderer": "svg", "actions": False})
